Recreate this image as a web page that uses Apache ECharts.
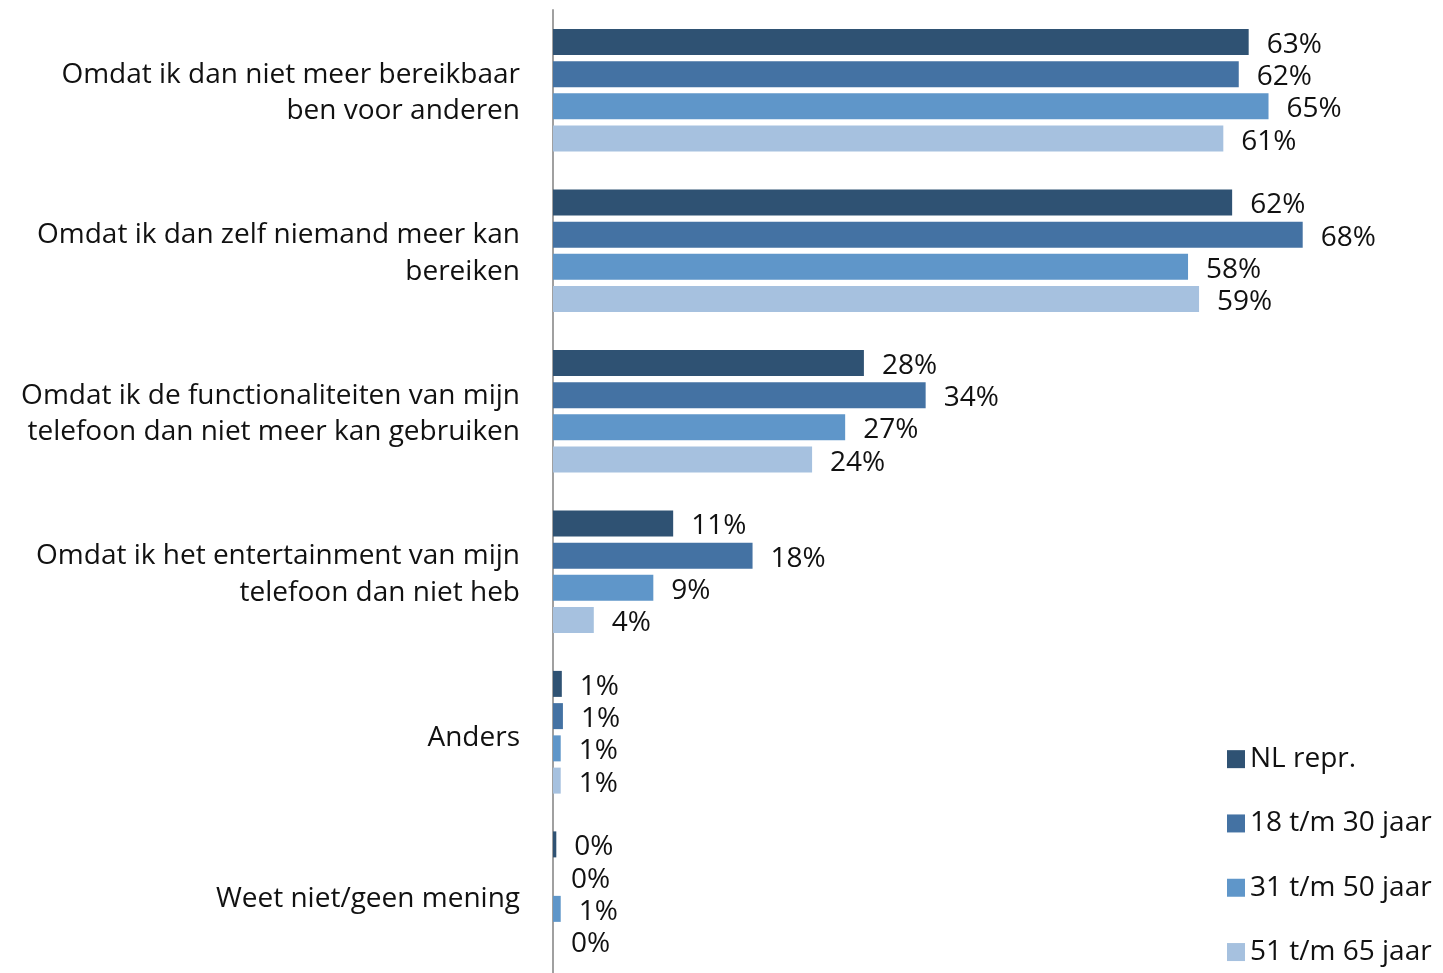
<!DOCTYPE html>
<html><head><meta charset="utf-8">
<script src="https://cdn.jsdelivr.net/npm/echarts@6/dist/echarts.min.js"></script>
<style>html,body{margin:0;padding:0;background:#fff}#c{width:1443px;height:973px}</style>
</head><body><div id="c"></div>
<script>
const categories = [
  "Omdat ik dan niet meer bereikbaar\nben voor anderen",
  "Omdat ik dan zelf niemand meer kan\nbereiken",
  "Omdat ik de functionaliteiten van mijn\ntelefoon dan niet meer kan gebruiken",
  "Omdat ik het entertainment van mijn\ntelefoon dan niet heb",
  "Anders",
  "Weet niet/geen mening"
];
const seriesNames = ["NL repr.", "18 t/m 30 jaar", "31 t/m 50 jaar", "51 t/m 65 jaar"];
const nlRepr   = [63.1, 61.6, 28.2, 10.9, 0.8, 0.3];
const age18_30 = [62.2, 68.0, 33.8, 18.1, 0.9, 0.0];
const age31_50 = [64.9, 57.6, 26.5, 9.1, 0.7, 0.7];
const age51_65 = [60.8, 58.6, 23.5, 3.7, 0.7, 0.0];
const colors = ["#2F5273", "#4472A3", "#5F96C9", "#A6C1DF"];

const FONT = "Open Sans";
const allData = [nlRepr, age18_30, age31_50, age51_65];
const txt = {fontSize: 28, color: '#111', fontFamily: FONT, lineHeight: 37, align: 'right'};
const chart = echarts.init(document.getElementById('c'));
chart.setOption({
  animation: false,
  textStyle: {fontFamily: FONT},
  grid: {left: 553, right: 8, top: 10, bottom: 0},
  legend: {
    orient: 'vertical', left: 1227, top: 745, padding: 0,
    itemWidth: 18, itemHeight: 18, itemGap: 36, itemTextGap: 7,
    icon: 'rect',
    textStyle: {fontSize: 28, color: '#111', fontFamily: FONT, lineHeight: 28.3},
    data: seriesNames
  },
  xAxis: {type: 'value', min: 0, max: 80, show: false},
  yAxis: {
    type: 'category', inverse: true, data: categories,
    axisLine: {show: true, lineStyle: {color: '#A0A0A0', width: 2}},
    axisTick: {show: false},
    axisLabel: {fontSize: 28, color: '#111', margin: 33, lineHeight: 37, fontFamily: FONT, align: 'right',
      formatter: v => {
        const lines = v.split('\n');
        if (lines.length === 1) return '{s|' + v + '}';
        return lines.map((l, k) => (k === 0 ? '{p|' : '{n|') + l + '}').join('\n');
      },
      rich: {
        p: Object.assign({padding: [6, 0, 0, 0]}, txt),
        s: Object.assign({padding: [12, 0, 0, 0]}, txt),
        n: Object.assign({padding: [5, 0, 0, 0]}, txt)
      }}
  },
  series: allData.map((d, i) => ({
    name: seriesNames[i], type: 'bar', data: d,
    barWidth: 26, barGap: '24%',
    itemStyle: {color: colors[i]},
    label: {show: true, position: 'right', distance: 18, fontSize: 28, color: '#111', fontFamily: FONT,
      offset: [0, 3],
      formatter: p => Math.round(p.value) + '%'}
  }))
});
</script></body></html>
